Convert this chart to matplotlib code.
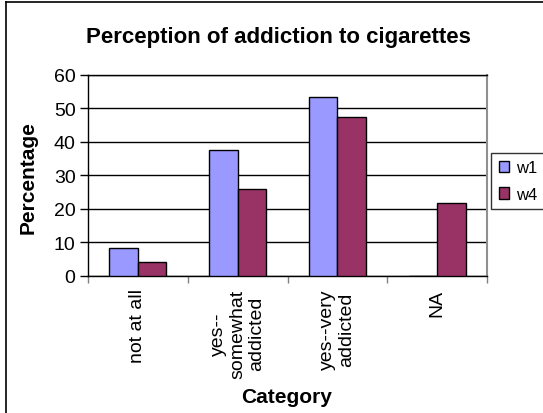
import numpy as np
import matplotlib
matplotlib.use('Agg')
import matplotlib.pyplot as plt
from matplotlib.lines import Line2D

plt.rcParams['font.family'] = ['Liberation Sans', 'DejaVu Sans']

categories = ['not at all', 'yes--\nsomewhat\naddicted', 'yes--very\naddicted', 'NA']
w1 = [8.2, 37.5, 53.4, 0]
w4 = [4.2, 25.9, 47.3, 21.8]
yticks = [0, 10, 20, 30, 40, 50, 60]

W, H = 543, 414
fig = plt.figure(figsize=(W / 100, H / 100), dpi=100)
ax = fig.add_axes([88 / W, 1 - 277 / H, (487 - 88) / W, (277 - 75.7) / H])

x = np.arange(len(categories))
bw = 0.286
ax.bar(x - bw / 2, w1, bw, color='#9999FF', edgecolor='black', linewidth=1, label='w1', zorder=3)
ax.bar(x + bw / 2, w4, bw, color='#993366', edgecolor='black', linewidth=1, label='w4', zorder=3)

ax.set_xlim(-0.5, len(categories) - 0.5)
ax.set_ylim(0, 60)
ax.set_yticks(yticks)
ax.set_yticklabels([str(v) for v in yticks], fontsize=14)
ax.yaxis.grid(True, color='black', linewidth=1)
ax.set_axisbelow(True)
ax.tick_params(axis='y', direction='out', length=6, width=1, pad=3)

ax.set_xticks(x)
ax.set_xticklabels(categories, rotation=90, fontsize=14, va='top', ha='center',
                   multialignment='center', linespacing=1.15)
ax.tick_params(axis='x', which='major', length=0, pad=9)
ax.set_xticks(np.arange(-0.5, len(categories)), minor=True)
ax.tick_params(axis='x', which='minor', direction='out', length=5, width=1, color='#808080')

for s in ['left', 'bottom', 'top']:
    ax.spines[s].set_color('black')
    ax.spines[s].set_linewidth(1)
ax.spines['right'].set_color('#909090')
ax.spines['right'].set_linewidth(1.5)

fig.text(278 / W, 1 - 43.3 / H, 'Perception of addiction to cigarettes',
         fontsize=16, fontweight='bold', ha='center', va='baseline')
fig.text(28 / W, 1 - 178 / H, 'Percentage', fontsize=15, fontweight='bold',
         rotation=90, ha='center', va='center')
fig.text(287 / W, 1 - 398 / H, 'Category', fontsize=15, fontweight='bold',
         ha='center', va='center')

leg = fig.legend(loc='center left', bbox_to_anchor=(491 / W, 1 - 182 / H),
                 fontsize=12, frameon=True, fancybox=False, shadow=False,
                 handlelength=0.65, handleheight=0.65, handletextpad=0.4,
                 labelspacing=0.7, borderpad=0.45, borderaxespad=0)
leg.get_frame().set_edgecolor('black')
leg.get_frame().set_linewidth(1)

fig.add_artist(Line2D([6 / W, 6 / W], [0, 1 - 3 / H], color='black', linewidth=1.2))
fig.add_artist(Line2D([6 / W, 1], [1 - 3 / H, 1 - 3 / H], color='black', linewidth=1.2))

fig.savefig('out.png', dpi=100)
